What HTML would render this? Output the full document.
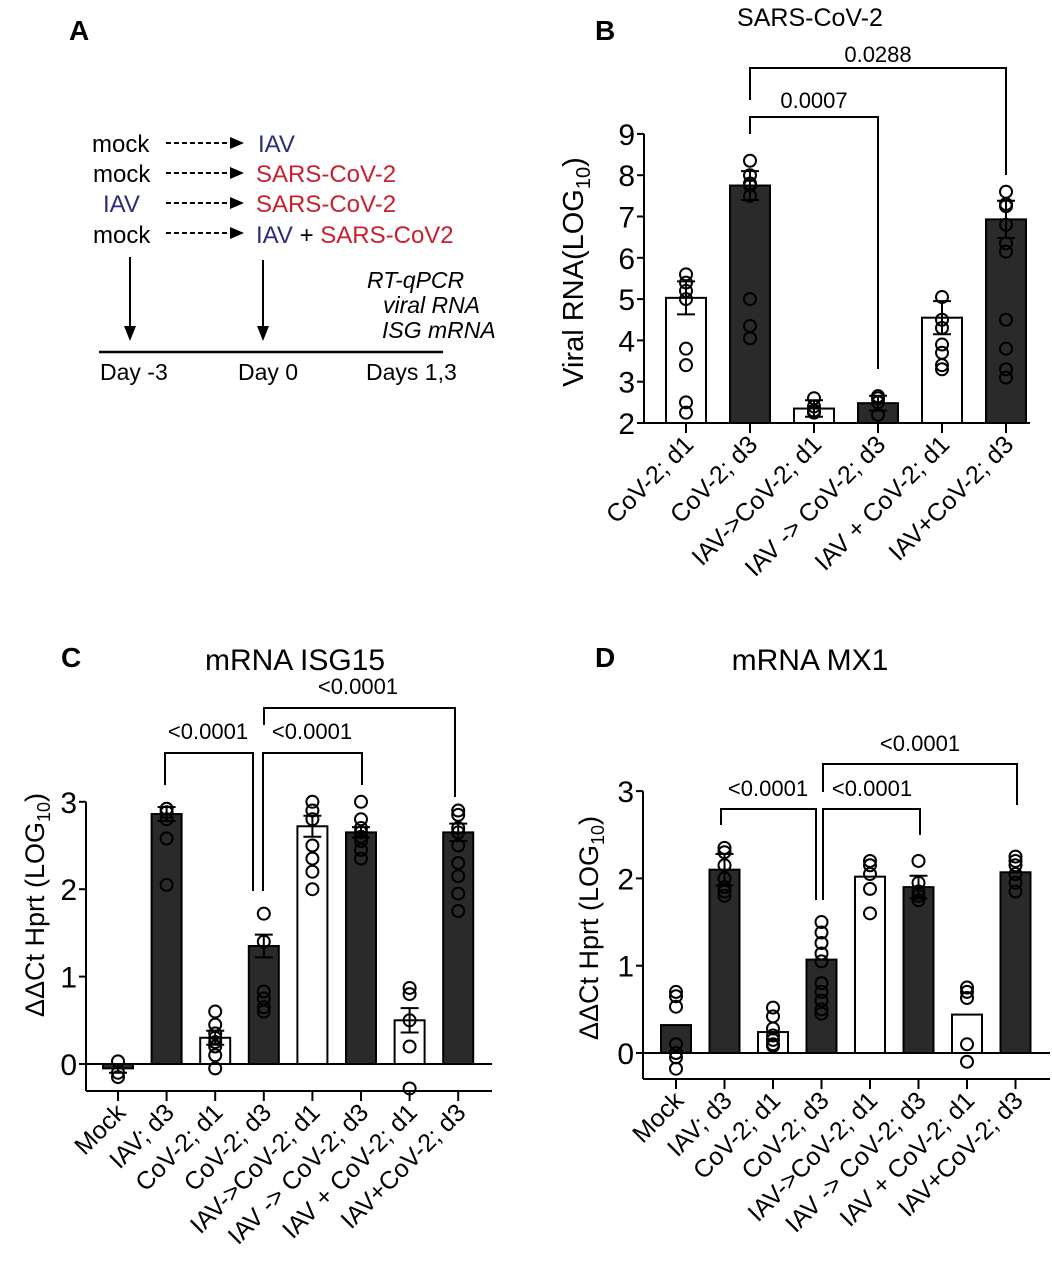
<!DOCTYPE html>
<html><head><meta charset="utf-8"><style>
html,body{margin:0;padding:0;background:#fff}
svg{display:block;font-family:"Liberation Sans",Arial,sans-serif}
</style></head><body>
<svg id="s" width="1052" height="1280" viewBox="0 0 1052 1280" xmlns="http://www.w3.org/2000/svg">
<text x="69" y="40" font-size="28" font-weight="bold">A</text>
<g font-size="24">
<text x="92" y="152">mock</text><text x="258" y="152" fill="#2b2d7a">IAV</text>
<text x="93" y="182">mock</text><text x="256" y="182" fill="#c8202e">SARS-CoV-2</text>
<text x="103" y="212" fill="#2b2d7a">IAV</text><text x="256" y="212" fill="#c8202e">SARS-CoV-2</text>
<text x="93" y="243">mock</text><text x="256" y="243"><tspan fill="#2b2d7a">IAV</tspan> + <tspan fill="#c8202e">SARS-CoV2</tspan></text>
</g>
<g stroke="#000" stroke-width="2" stroke-dasharray="5,3">
<line x1="166" y1="143" x2="232" y2="143"/><line x1="166" y1="173" x2="232" y2="173"/>
<line x1="166" y1="203" x2="232" y2="203"/><line x1="166" y1="233" x2="232" y2="233"/>
</g>
<g fill="#000">
<polygon points="230,137 244,143 230,149"/><polygon points="230,167 244,173 230,179"/>
<polygon points="230,197 244,203 230,209"/><polygon points="230,227 244,233 230,239"/>
<polygon points="124,326 136,326 130,341"/><polygon points="257,326 269,326 263,341"/>
</g>
<line x1="130" y1="257" x2="130" y2="328" stroke="#000" stroke-width="2"/>
<line x1="263" y1="260" x2="263" y2="328" stroke="#000" stroke-width="2"/>
<line x1="99" y1="352" x2="443" y2="352" stroke="#000" stroke-width="2.5"/>
<g font-size="23"><text x="100" y="380">Day -3</text><text x="238" y="380">Day 0</text><text x="366" y="380">Days 1,3</text></g>
<g font-size="23" font-style="italic"><text x="367" y="288">RT-qPCR</text><text x="383" y="313">viral RNA</text><text x="382" y="338">ISG mRNA</text></g>
<text x="595" y="40" font-size="28" font-weight="bold">B</text>
<text x="810" y="26" font-size="25" text-anchor="middle">SARS-CoV-2</text>
<text x="61" y="667" font-size="28" font-weight="bold">C</text>
<text x="295" y="670" font-size="30" text-anchor="middle">mRNA ISG15</text>
<text x="595" y="667" font-size="28" font-weight="bold">D</text>
<text x="810" y="670" font-size="30" text-anchor="middle">mRNA MX1</text>
<g id="g"></g>
</svg>
<script>
var NS="http://www.w3.org/2000/svg",G=document.getElementById("g");
function el(t,a,txt){var e=document.createElementNS(NS,t);for(var k in a)e.setAttribute(k,a[k]);if(txt!=null)e.textContent=txt;G.appendChild(e);return e;}
function ln(x1,y1,x2,y2,w){el("line",{x1:x1,y1:y1,x2:x2,y2:y2,stroke:"#000","stroke-width":w||2});}
function panel(p){
 var Y=function(v){return p.y0-(v-p.v0)*p.k;};
 p.bars.forEach(function(b,i){
  var cx=p.x0+i*p.dx, top=Y(b[0]), base=Y(p.base);
  var y1=Math.min(top,base),h=Math.abs(top-base);
  el("rect",{x:cx-p.bw/2,y:y1,width:p.bw,height:h,fill:b[1]?"#2a2a2a":"#fff",stroke:"#000","stroke-width":2});
  b[2].forEach(function(v){el("circle",{cx:cx,cy:Y(v),r:6,fill:"none",stroke:"#000","stroke-width":2});});
  if(b[3]){var e1=Y(b[0]+b[3]),e2=Y(b[0]-b[3]);ln(cx,e1,cx,e2);ln(cx-9,e1,cx+9,e1);ln(cx-9,e2,cx+9,e2);}
  ln(cx,p.axb,cx,p.axb+10);
  var ax=cx+9, ay=p.axb+23;
  el("text",{x:ax,y:ay,"font-size":25,"text-anchor":"end",transform:"rotate(-45 "+ax+" "+ay+")"},b[4]);
 });
 ln(p.ax,Y(p.ticks[p.ticks.length-1]),p.ax,p.axb);
 ln(p.ax,p.axb,p.xend,p.axb);
 if(p.zero)ln(p.ax-6,Y(0),p.xend,Y(0));
 p.ticks.forEach(function(t){ln(p.ax-7,Y(t),p.ax,Y(t));el("text",{x:p.ax-9,y:Y(t)+11,"font-size":p.tf,"text-anchor":"end"},t);});
 var yl=el("text",{x:p.lx,y:p.ly,"font-size":p.lf,"text-anchor":"middle",transform:"rotate(-90 "+p.lx+" "+p.ly+")"});
 yl.innerHTML=p.lab;
 p.br.forEach(function(b){
  el("path",{d:"M"+b[0]+" "+b[3]+"V"+b[2]+"H"+b[1]+"V"+b[4],fill:"none",stroke:"#000","stroke-width":2});
  el("text",{x:b[5],y:b[6],"font-size":22,"text-anchor":"middle"},b[7]);
 });
}
panel({v0:2,y0:423,k:41.3,base:2,x0:686,dx:64,bw:40,ax:644,axb:423,xend:1030,ticks:[2,3,4,5,6,7,8,9],tf:30,
 lx:583,ly:272,lf:29,lab:'Viral RNA(LOG<tspan font-size="20" dy="7">10</tspan><tspan dy="-7">)</tspan>',
 bars:[[5.03,0,[5.6,5.4,5.2,5.0,3.8,3.4,2.5,2.25],0.4,"CoV-2; d1"],
 [7.75,1,[8.35,8.0,7.8,7.75,7.5,5.0,4.35,4.05],0.35,"CoV-2; d3"],
 [2.35,0,[2.6,2.4,2.3,2.25],0.2,"IAV->CoV-2; d1"],
 [2.48,1,[2.65,2.6,2.5,2.2],0.18,"IAV -> CoV-2; d3"],
 [4.55,0,[5.05,4.5,4.3,3.9,3.7,3.4,3.3],0.4,"IAV + CoV-2; d1"],
 [6.93,1,[7.6,7.3,7.25,6.8,6.35,6.15,4.5,3.8,3.3,3.1],0.45,"IAV+CoV-2; d3"]],
 br:[[750,878,117,134,369,814,108,"0.0007"],[750,1006,68,100,175,878,62,"0.0288"]]});
panel({v0:0,y0:1064,k:87.4,base:0,zero:1,x0:118,dx:48.6,bw:30,ax:86,axb:1091,xend:492,ticks:[0,1,2,3],tf:30,
 lx:44,ly:905,lf:27,lab:'ΔΔCt Hprt (LOG<tspan font-size="18" dy="6">10</tspan><tspan dy="-6">)</tspan>',
 bars:[[-0.05,1,[0.03,-0.1,-0.15],0.05,"Mock"],
 [2.86,1,[2.92,2.88,2.8,2.58,2.05],0.08,"IAV; d3"],
 [0.3,0,[0.6,0.45,0.35,0.3,0.25,0.2,0.1,-0.05],0.08,"CoV-2; d1"],
 [1.35,1,[1.72,1.4,0.83,0.75,0.65,0.6],0.13,"CoV-2; d3"],
 [2.72,0,[3.0,2.9,2.8,2.5,2.35,2.2,2.0],0.12,"IAV->CoV-2; d1"],
 [2.65,1,[3.0,2.8,2.7,2.65,2.6,2.55,2.45,2.35],0.06,"IAV -> CoV-2; d3"],
 [0.5,0,[0.87,0.8,0.5,0.2,-0.28],0.14,"IAV + CoV-2; d1"],
 [2.65,1,[2.9,2.85,2.7,2.65,2.5,2.3,2.15,1.95,1.75],0.1,"IAV+CoV-2; d3"]],
 br:[[165,253,753,785,891,208,739,"<0.0001"],[263,362,753,891,785,312,739,"<0.0001"],[264,455,708,725,797,358,694,"<0.0001"]]});
panel({v0:0,y0:1053,k:87.3,base:0,zero:1,x0:676,dx:48.5,bw:30,ax:643,axb:1079,xend:1050,ticks:[0,1,2,3],tf:30,
 lx:598,ly:928,lf:27,lab:'ΔΔCt Hprt (LOG<tspan font-size="18" dy="6">10</tspan><tspan dy="-6">)</tspan>',
 bars:[[0.32,1,[0.7,0.65,0.53,0.1,0,-0.05,-0.18],0,"Mock"],
 [2.1,1,[2.35,2.3,2.15,2.0,1.9,1.85,1.8],0.18,"IAV; d3"],
 [0.24,0,[0.52,0.42,0.28,0.2,0.15,0.1,0.08],0,"CoV-2; d1"],
 [1.07,1,[1.5,1.38,1.26,1.14,1.05,0.8,0.7,0.6,0.5,0.45],0,"CoV-2; d3"],
 [2.02,0,[2.2,2.15,2.05,1.88,1.6],0,"IAV->CoV-2; d1"],
 [1.9,1,[2.2,1.95,1.85,1.8,1.75],0.13,"IAV -> CoV-2; d3"],
 [0.44,0,[0.75,0.7,0.63,0.1,-0.1],0,"IAV + CoV-2; d1"],
 [2.07,1,[2.25,2.2,2.15,2.05,1.95,1.85],0,"IAV+CoV-2; d3"]],
 br:[[721,816,809,825,900,768,796,"<0.0001"],[823,920,809,900,835,872,796,"<0.0001"],[823,1017,764,792,805,920,751,"<0.0001"]]});
</script>
</body></html>
